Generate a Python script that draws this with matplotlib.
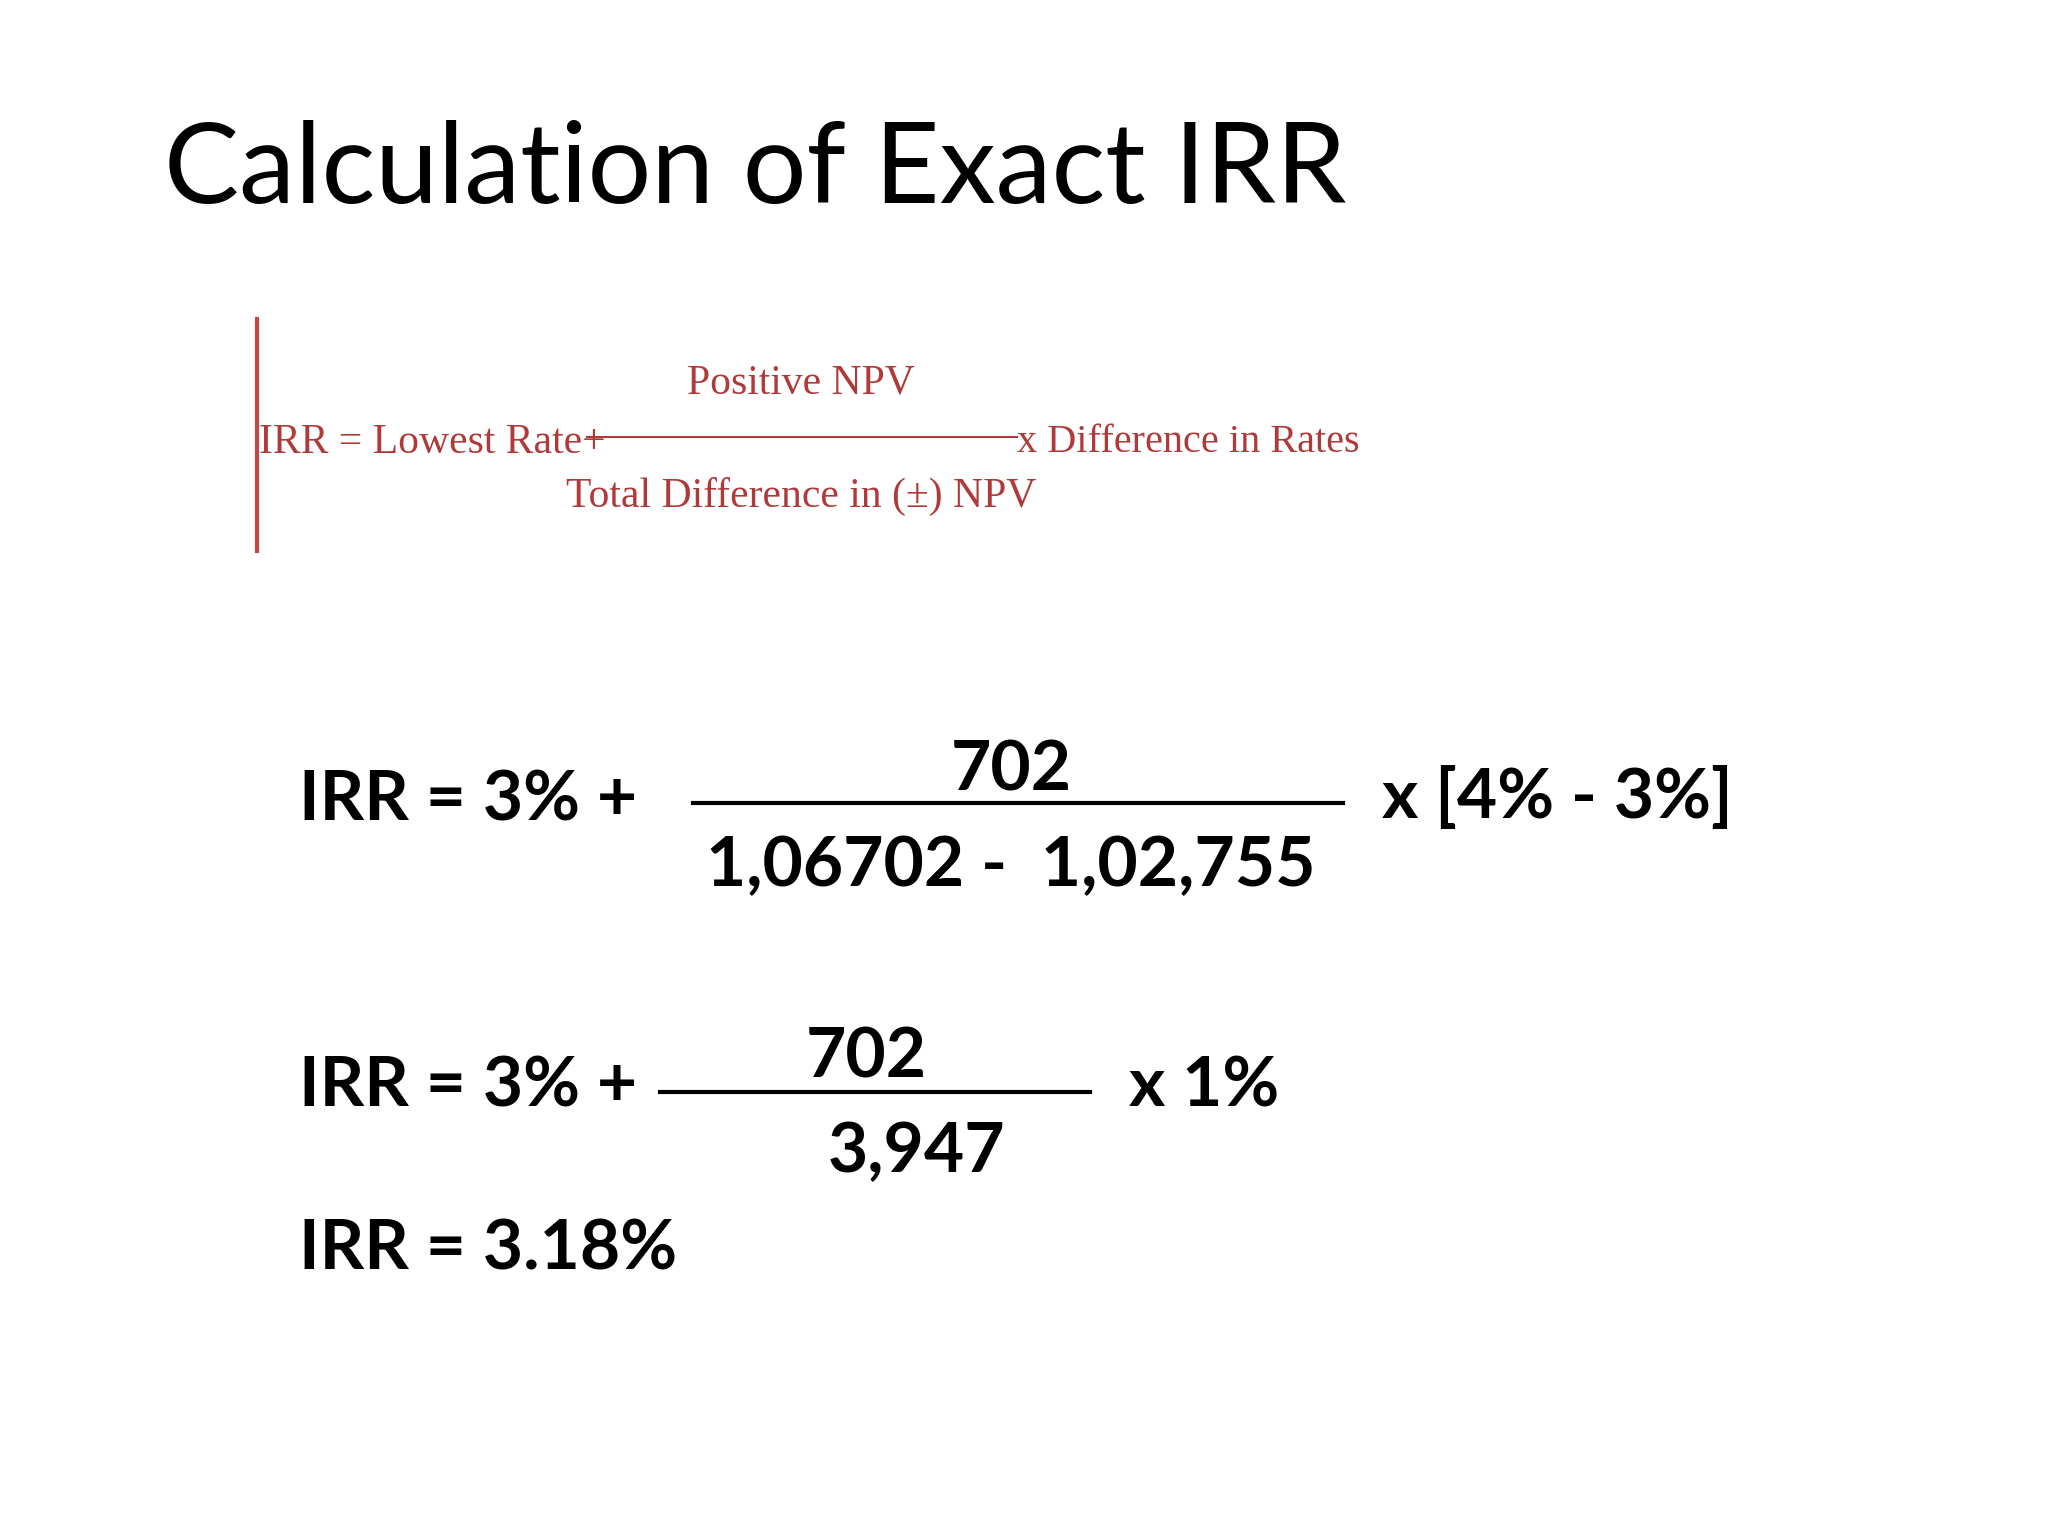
import matplotlib
matplotlib.use("Agg")
import matplotlib.pyplot as plt
from matplotlib.lines import Line2D

# reference layout measured on a 1560x1170 view
W, H = 1560.0, 1170.0

title = "Calculation of Exact IRR"
formula_left = "IRR = Lowest Rate+"
formula_num = "Positive NPV"
formula_den = "Total Difference in (\u00b1) NPV"
formula_right = "x Difference in Rates"

eq1_left = "IRR = 3% +"
eq1_num = "702"
eq1_den = "1,06702 -  1,02,755"
eq1_right = "x [4% - 3%]"
eq2_left = "IRR = 3% +"
eq2_num = "702"
eq2_den = "3,947"
eq2_right = "x 1%"
result = "IRR = 3.18%"

red = "#b03a3a"

fig = plt.figure(figsize=(20.48, 15.36), dpi=100)
fig.patch.set_facecolor("white")


def fx(x):
    return x / W


def fy(y):
    return 1 - y / H


def txt(x, y, s, size, ha="left", **kw):
    fig.text(fx(x), fy(y), s, fontsize=size, ha=ha, va="center", **kw)


def hline(x0, x1, y, color="black", lw=3):
    fig.add_artist(Line2D([fx(x0), fx(x1)], [fy(y), fy(y)], color=color, lw=lw,
                          transform=fig.transFigure))


# title
txt(125, 130, title, 81, family="Lato")

# red formula picture
fig.add_artist(Line2D([fx(196), fx(196)], [fy(243), fy(420)], color="#c04848", lw=3,
                      transform=fig.transFigure))
serif = dict(family="Liberation Serif", color=red)
txt(197, 337, formula_left, 30, **serif)
txt(610, 292, formula_num, 30, ha="center", **serif)
hline(447, 775, 333, color=red, lw=1.5)
txt(610, 378, formula_den, 30, ha="center", **serif)
txt(775, 337, formula_right, 29, **serif)

# worked example
bold = dict(family="Lato", weight="bold")
sz = 50
txt(228, 610, eq1_left, sz, **bold)
txt(770, 587, eq1_num, sz, ha="center", **bold)
hline(528, 1023, 612)
txt(770, 660, eq1_den, sz, ha="center", **bold)
txt(1053, 608, eq1_right, sz, **bold)

txt(228, 828, eq2_left, sz, **bold)
txt(660, 806, eq2_num, sz, ha="center", **bold)
hline(503, 830, 832)
txt(698, 878, eq2_den, sz, ha="center", **bold)
txt(860, 828, eq2_right, sz, **bold)

txt(228, 952, result, sz, **bold)

fig.savefig("out.png", dpi=100, facecolor="white")
